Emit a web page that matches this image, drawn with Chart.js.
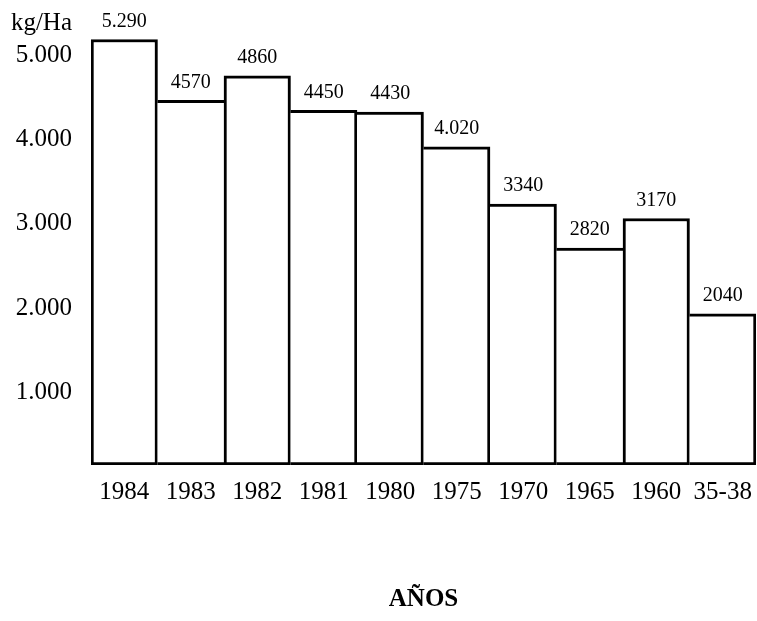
<!DOCTYPE html>
<html>
<head>
<meta charset="utf-8">
<script src="https://cdn.jsdelivr.net/npm/chart.js@4"></script>
<style>
  html, body { margin: 0; padding: 0; background: #fff; }
</style>
</head>
<body>
<canvas id="yieldChart" width="757" height="621"></canvas>
<script>
const years = ['1984', '1983', '1982', '1981', '1980', '1975', '1970', '1965', '1960', '35-38'];
const yields = [5290, 4570, 4860, 4450, 4430, 4020, 3340, 2820, 3170, 2040];
const yieldLabels = ['5.290', '4570', '4860', '4450', '4430', '4.020', '3340', '2820', '3170', '2040'];
const tickValues = [1000, 2000, 3000, 4000, 5000];
const tickLabels = ['1.000', '2.000', '3.000', '4.000', '5.000'];

const ink = '#000';
const serif = '"Liberation Serif", "DejaVu Serif", serif';
const axisFloor = 250;

// value over each bar + unit label top-left
const barValueLabels = {
  id: 'barValueLabels',
  afterDatasetsDraw(chart) {
    const ctx = chart.ctx;
    const meta = chart.getDatasetMeta(0);
    ctx.save();
    ctx.fillStyle = ink;
    ctx.font = '20px ' + serif;
    ctx.textAlign = 'center';
    ctx.textBaseline = 'bottom';
    meta.data.forEach((bar, i) => {
      ctx.fillText(yieldLabels[i], bar.x, bar.y - 8);
    });
    ctx.font = '25px ' + serif;
    ctx.textAlign = 'right';
    ctx.textBaseline = 'alphabetic';
    ctx.fillText('kg/Ha', 72, 30);
    ctx.restore();
  }
};

// each divider line is drawn once, by the taller of the two bars
function sideWidths(c) {
  const i = c.dataIndex;
  if (i === undefined) return 3;
  const v = yields[i];
  const last = yields.length - 1;
  return {
    top: 3,
    bottom: 3,
    left: (i === 0 || v >= yields[i - 1]) ? 3 : 0,
    right: (i === last || v > yields[i + 1]) ? 3 : 0
  };
}

new Chart(document.getElementById('yieldChart'), {
  type: 'bar',
  data: {
    labels: years,
    datasets: [{
      data: yields,
      base: axisFloor,
      backgroundColor: '#fff',
      borderColor: ink,
      borderWidth: sideWidths,
      borderSkipped: false,
      categoryPercentage: 1,
      barPercentage: 1
    }]
  },
  options: {
    responsive: false,
    animation: false,
    layout: { padding: { top: 8, right: 1, left: 0, bottom: 0 } },
    plugins: {
      legend: { display: false },
      tooltip: { enabled: false }
    },
    scales: {
      x: {
        grid: { display: false },
        border: { display: false },
        ticks: {
          color: ink,
          font: { family: serif, size: 25 },
          padding: 4,
          maxRotation: 0,
          autoSkip: false
        },
        title: {
          display: true,
          text: 'AÑOS',
          color: ink,
          font: { family: serif, size: 25, weight: 'bold' },
          padding: { top: 0, bottom: 6 }
        },
        afterFit: (scale) => { scale.height = 156; }
      },
      y: {
        min: axisFloor,
        max: 5450,
        grid: { display: false },
        border: { display: false },
        afterBuildTicks: (scale) => {
          scale.ticks = tickValues.map(v => ({ value: v }));
        },
        ticks: {
          color: ink,
          font: { family: serif, size: 25 },
          padding: 11,
          labelOffset: -9,
          callback: (v) => tickLabels[tickValues.indexOf(v)] ?? ''
        },
        afterFit: (scale) => { scale.width = 91; }
      }
    }
  },
  plugins: [barValueLabels]
});
</script>
</body>
</html>
